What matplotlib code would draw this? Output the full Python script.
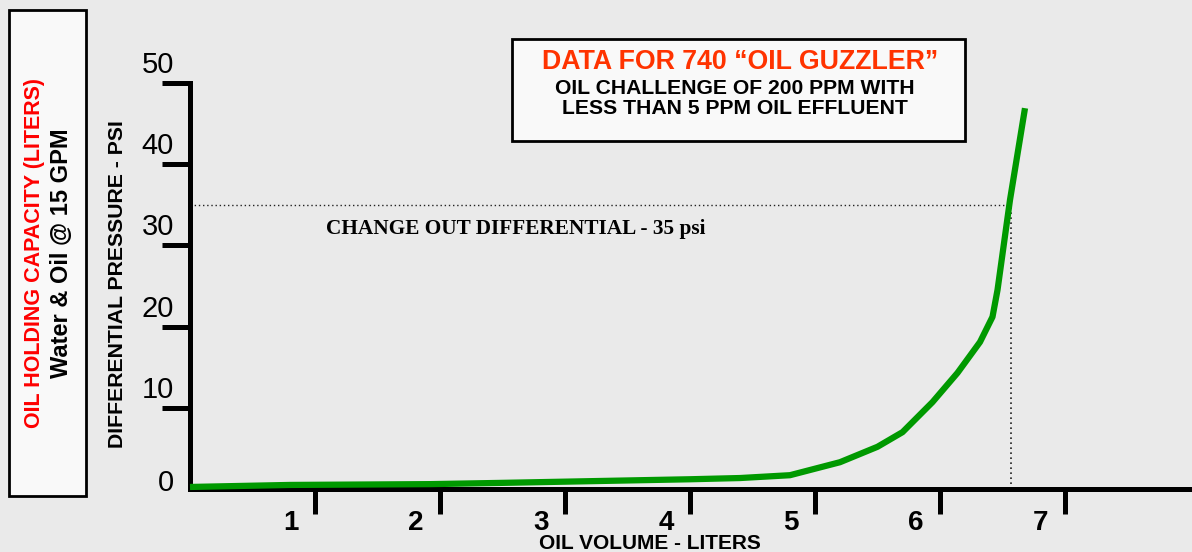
import numpy as np
import matplotlib.pyplot as plt
from matplotlib.patches import Rectangle

W, H = 1192, 552

# Daten
oil_volume   = [0.0, 0.8, 1.92, 2.48, 4.0, 4.4, 4.8, 5.2, 5.5, 5.7, 5.94, 6.14, 6.32, 6.42, 6.46, 6.56, 6.68]
diff_psi     = [0.25, 0.5, 0.6, 0.75, 1.2, 1.35, 1.7, 3.3, 5.2, 7.0, 10.7, 14.3, 18.1, 21.2, 24.5, 35.6, 46.9]
x_ticks      = [1, 2, 3, 4, 5, 6, 7]
y_ticks      = [0, 10, 20, 30, 40, 50]
change_psi   = 35
change_vol   = 6.57

BG    = "#eaeaea"
GREEN = "#009900"

def fx(px):
    return px / W

def fy(py):
    return 1 - py / H

fig = plt.figure(figsize=(W / 100, H / 100), dpi=100)
fig.patch.set_facecolor(BG)
plt.rcParams["font.family"] = ["Liberation Sans", "DejaVu Sans"]

ax = fig.add_axes([fx(190), fy(489), fx(1192) - fx(190), fy(83) - fy(489)])
ax.set_facecolor(BG)
ax.set_xlim(0, (1192 - 190) / 125)
ax.set_ylim(0, 50)
ax.spines[["top", "right"]].set_visible(False)
for s in ["left", "bottom"]:
    ax.spines[s].set_linewidth(3.6)
    ax.spines[s].set_capstyle("projecting")

ax.set_xticks(x_ticks)
ax.set_yticks(y_ticks[1:])
ax.tick_params(axis="y", length=20, width=3.6, direction="out", labelleft=False)
ax.tick_params(axis="x", length=18, width=3.6, direction="out", labelbottom=False)

# Tick-Beschriftungen
for v in y_ticks:
    off = 4 if v > 0 else -8
    ax.annotate(str(v), xy=(0, v), xycoords=("axes fraction", "data"),
                xytext=(-16, off), textcoords="offset pixels",
                ha="right", va="bottom", fontsize=21)
for v in x_ticks:
    ax.annotate(str(v), xy=(v, 0), xycoords=("data", "axes fraction"),
                xytext=(-24, -41), textcoords="offset pixels",
                ha="center", va="baseline", fontsize=20, fontweight="bold")

# Kurve
ax.plot(oil_volume, diff_psi, color=GREEN, linewidth=4.5, clip_on=False,
        solid_capstyle="butt", zorder=3)

# Wechseldifferenz
ax.plot([0, change_vol], [change_psi, change_psi], color="#222222",
        linewidth=1.0, linestyle=(0, (1, 2)))
ax.plot([change_vol, change_vol], [0, change_psi], color="#222222",
        linewidth=1.2, linestyle=(0, (1, 2)))
fig.text(fx(516), fy(229), "CHANGE OUT DIFFERENTIAL - 35 psi", ha="center", va="center",
         fontsize=15.3, fontweight="bold", family=["Liberation Serif", "DejaVu Serif"])

# Achsentitel
fig.text(fx(650), fy(549), "OIL VOLUME - LITERS", ha="center", va="baseline",
         fontsize=15, fontweight="bold")
fig.text(fx(118), fy(284), "DIFFERENTIAL PRESSURE - PSI", ha="center", va="center",
         rotation=90, fontsize=15.3, fontweight="bold")

# Linke Box
fig.patches.append(Rectangle((fx(9), fy(496)), fx(86) - fx(9), fy(10) - fy(496),
                             transform=fig.transFigure, facecolor="#f9f9f9",
                             edgecolor="black", linewidth=2))
fig.text(fx(35), fy(253), "OIL HOLDING CAPACITY (LITERS)", ha="center", va="center",
         rotation=90, fontsize=15.5, fontweight="bold", color="#ff0000")
fig.text(fx(62), fy(253), "Water & Oil @ 15 GPM", ha="center", va="center",
         rotation=90, fontsize=17, fontweight="bold", color="black")

# Titelbox
fig.patches.append(Rectangle((fx(512), fy(141)), fx(965) - fx(512), fy(39) - fy(141),
                             transform=fig.transFigure, facecolor="#f9f9f9",
                             edgecolor="black", linewidth=2))
fig.text(fx(740), fy(62), "DATA FOR 740 \u201cOIL GUZZLER\u201d", ha="center", va="center",
         fontsize=19.3, fontweight="bold", color="#ff3300")
fig.text(fx(735), fy(88), "OIL CHALLENGE OF 200 PPM WITH", ha="center", va="center",
         fontsize=15.2, fontweight="bold")
fig.text(fx(735), fy(109), "LESS THAN 5 PPM OIL EFFLUENT", ha="center", va="center",
         fontsize=15.2, fontweight="bold")

fig.savefig("out.png", dpi=100, facecolor=BG)
